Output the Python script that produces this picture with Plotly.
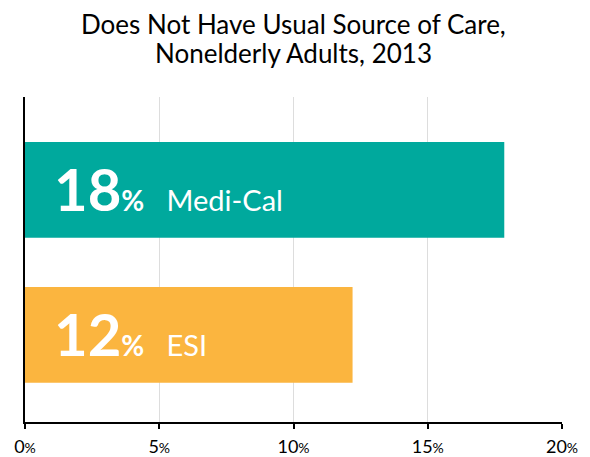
import plotly.graph_objects as go

categories = ["ESI", "Medi-Cal"]
values = [12.2, 17.85]
display_values = [12, 18]
colors = ["#FBB53F", "#00A99D"]
tick_vals = [0, 5, 10, 15, 20]
tick_text = [f"{v}<span style='font-size:14px'>%</span>" for v in tick_vals]
title_lines = ["Does Not Have Usual Source of Care,", "Nonelderly Adults, 2013"]

FONT = "Lato"

fig = go.Figure()
fig.add_trace(go.Bar(
    y=categories, x=values, orientation="h",
    marker=dict(color=colors, line=dict(width=0)),
    width=0.66, hoverinfo="skip",
))

for cat, val in zip(categories, display_values):
    fig.add_annotation(
        x=0, y=cat, xref="x", yref="y", xanchor="left", yanchor="middle",
        xshift=27, yshift=1, showarrow=False,
        text=(f"<b>{val}</b><b><span style='font-size:28px'>%</span></b>"
              f"<span style='font-size:29px'>&nbsp;&nbsp;&nbsp;{cat}</span>"),
        font=dict(family=FONT, size=58, color="white"),
    )

for line, ypos in zip(title_lines, [1.2246, 1.1354]):
    fig.add_annotation(
        x=0.5, y=ypos, xref="paper", yref="paper", xanchor="center", yanchor="middle",
        showarrow=False, text=line,
        font=dict(family=FONT, size=26, color="black"),
    )

fig.update_layout(
    width=590, height=457,
    margin=dict(l=25, r=28, t=97, b=35),
    paper_bgcolor="white", plot_bgcolor="white",
    showlegend=False,
    xaxis=dict(range=[0, 20], tickvals=tick_vals, ticktext=tick_text,
               showgrid=True, gridcolor="#dddddd", gridwidth=1,
               showline=True, linecolor="black", linewidth=2,
               ticks="outside", ticklen=5, tickwidth=2, tickcolor="black",
               ticklabelstandoff=2,
               tickfont=dict(family=FONT, size=18, color="black"),
               zeroline=False, fixedrange=True, automargin=False),
    yaxis=dict(range=[-0.6, 1.64], showticklabels=False, showgrid=False,
               showline=True, linecolor="black", linewidth=2,
               zeroline=False, ticks="", fixedrange=True, automargin=False),
)

fig.write_html("out.html")
